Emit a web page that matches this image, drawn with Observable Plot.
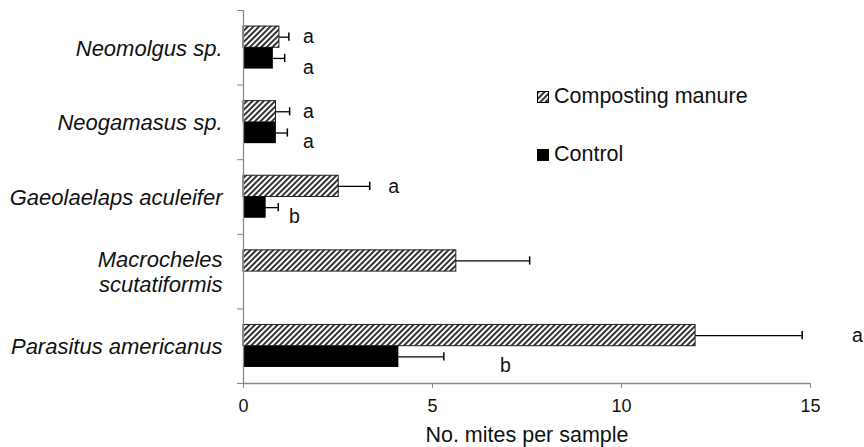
<!DOCTYPE html>
<html><head><meta charset="utf-8">
<script src="https://cdn.jsdelivr.net/npm/d3@7"></script>
<script src="https://cdn.jsdelivr.net/npm/@observablehq/plot@0.6"></script>
<style>
body{margin:0;background:#fff;font-family:"Liberation Sans",Arial,sans-serif;}
#wrap{position:relative;width:864px;height:447px;}
.item{position:absolute;left:537px;display:flex;align-items:center;font-size:21.5px;color:#111;white-space:nowrap;}
.item svg{margin-right:5px;}
</style></head><body><div id="wrap"></div>
<script>
// Categories (top to bottom) and series values
const categories = ["Neomolgus sp.", "Neogamasus sp.", "Gaeolaelaps aculeifer", "Macrocheles\nscutatiformis", "Parasitus americanus"];
const seriesNames = ["Composting manure", "Control"];
const composting = [0.95, 0.86, 2.52, 5.63, 11.96];
const compostingErr = [0.25, 0.36, 0.82, 1.94, 2.82];
const control = [0.79, 0.87, 0.60, 0, 4.11];
const controlErr = [0.30, 0.29, 0.32, 0, 1.19];
const compostingLetters = ["a", "a", "a", "", "a"];
const controlLetters = ["a", "a", "b", "", "b"];
const compostingLetterX = [1.72, 1.72, 3.97, 0, 16.24];
const controlLetterX = [1.72, 1.72, 1.35, 0, 6.93];
const xTicks = [0, 5, 10, 15];

const rows = categories.map((c, i) => ({
  i, cat: c,
  comp: composting[i], compErr: compostingErr[i],
  ctrl: control[i], ctrlErr: controlErr[i],
  compLetter: compostingLetters[i], ctrlLetter: controlLetters[i],
  compLetterX: compostingLetterX[i], ctrlLetterX: controlLetterX[i]
}));

const barH = 0.285;   // bar thickness in band units
const capH = 0.055;   // half height of error caps
const mid = d => d.i + 0.5;
const compRows = rows.filter(d => d.comp > 0);
const ctrlRows = rows.filter(d => d.ctrl > 0);
const axisGray = "#888";

const plot = Plot.plot({
  width: 864, height: 447,
  marginLeft: 243, marginRight: 54, marginTop: 10, marginBottom: 64,
  style: {fontFamily: "'Liberation Sans', Arial, sans-serif", background: "white", color: "#111"},
  x: {domain: [0, 15]},
  y: {domain: [0, 5], reverse: true},
  marks: [
    // bars
    Plot.rect(compRows, {x1: d => 0, x2: "comp", y1: d => mid(d) - barH, y2: d => mid(d), fill: "url(#hatch)", stroke: "#222", strokeWidth: 1}),
    Plot.rect(ctrlRows, {x1: d => 0, x2: "ctrl", y1: d => mid(d), y2: d => mid(d) + barH, fill: "black"}),
    // error bars
    Plot.ruleY(compRows, {x1: "comp", x2: d => d.comp + d.compErr, y: d => mid(d) - barH / 2, stroke: "black", strokeWidth: 1.3}),
    Plot.ruleX(compRows, {x: d => d.comp + d.compErr, y1: d => mid(d) - barH / 2 - capH, y2: d => mid(d) - barH / 2 + capH, stroke: "black", strokeWidth: 1.5}),
    Plot.ruleY(ctrlRows, {x1: "ctrl", x2: d => d.ctrl + d.ctrlErr, y: d => mid(d) + barH / 2, stroke: "black", strokeWidth: 1.3}),
    Plot.ruleX(ctrlRows, {x: d => d.ctrl + d.ctrlErr, y1: d => mid(d) + barH / 2 - capH, y2: d => mid(d) + barH / 2 + capH, stroke: "black", strokeWidth: 1.5}),
    // significance letters
    Plot.text(rows.filter(d => d.compLetter), {x: "compLetterX", y: d => mid(d) - barH / 2, text: "compLetter", fontSize: 19.5, fill: "#111"}),
    Plot.text(rows.filter(d => d.ctrlLetter), {x: "ctrlLetterX", y: d => mid(d) + barH / 2, dy: 9, text: "ctrlLetter", fontSize: 19.5, fill: "#111"}),
    // axes lines
    Plot.ruleX([0], {stroke: axisGray, strokeWidth: 1.3}),
    Plot.ruleY([5], {stroke: axisGray, strokeWidth: 1.3}),
    // y axis: category labels at band centres, ticks at band boundaries
    Plot.axisY({ticks: categories.map((c, i) => i + 0.5), tickFormat: v => categories[Math.round(v - 0.5)], tickSize: 0, tickPadding: 21, fontSize: 22, fontStyle: "italic", lineHeight: 1.12, label: null}),
    Plot.axisY({ticks: d3.range(categories.length + 1), tickFormat: () => "", tickSize: 6, stroke: axisGray, label: null}),
    // x axis
    Plot.axisX({ticks: xTicks, tickSize: 5, tickPadding: 11, fontSize: 18, stroke: axisGray, label: null}),
    Plot.text(["No. mites per sample"], {frameAnchor: "bottom", dy: 43, lineAnchor: "top", fontSize: 21.5, fill: "#111"})
  ]
});

const ns = "http://www.w3.org/2000/svg";
const defs = document.createElementNS(ns, "defs");
defs.innerHTML = `<pattern id="hatch" patternUnits="userSpaceOnUse" width="4" height="4" patternTransform="rotate(45)"><rect width="4" height="4" fill="white"/><line x1="2" y1="0" x2="2" y2="4" stroke="black" stroke-width="1.6"/></pattern>`;
plot.insertBefore(defs, plot.firstChild);

const wrap = document.getElementById("wrap");
wrap.appendChild(plot);

// legend inside the plot area
const legendTops = [84, 142];
seriesNames.forEach((name, k) => {
  const div = document.createElement("div");
  div.className = "item";
  div.style.top = legendTops[k] + "px";
  const fill = k === 0 ? "url(#hatch)" : "black";
  div.innerHTML = `<svg width="12" height="12"><rect x="0.5" y="0.5" width="11" height="11" fill="${fill}" stroke="black" stroke-width="1"/></svg><span>${name}</span>`;
  wrap.appendChild(div);
});
</script></body></html>
